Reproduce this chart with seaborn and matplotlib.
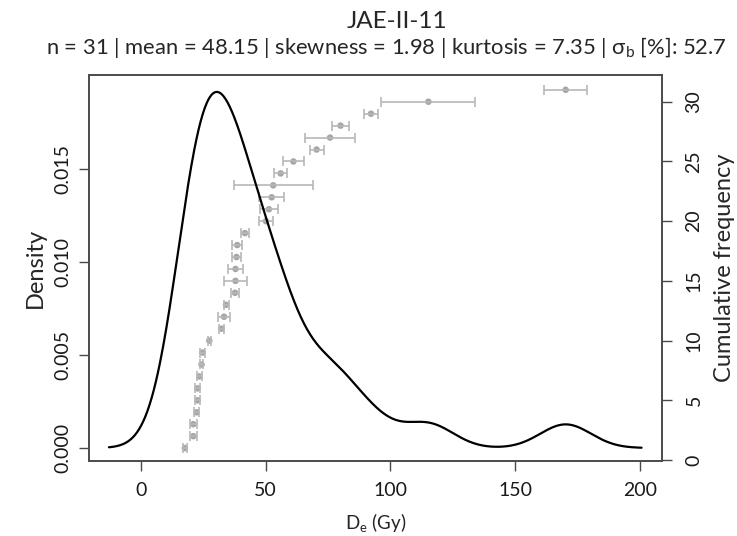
import numpy as np
import pandas as pd
import matplotlib
matplotlib.use("Agg")
import matplotlib.pyplot as plt
import seaborn as sns

# ---- data ----
de_values = [17.6, 21.0, 21.0, 22.3, 22.7, 22.7, 23.4, 24.3, 24.7, 27.4,
             32.3, 33.3, 34.1, 37.7, 37.9, 37.9, 38.3, 38.6, 41.7, 50.1,
             51.3, 52.4, 53.0, 56.0, 61.1, 70.4, 75.8, 80.0, 92.2, 115.2,
             170.2]
de_errors = [0.8, 1.3, 1.3, 1.1, 1.0, 1.1, 0.9, 0.7, 1.0, 0.7,
             1.0, 2.5, 1.0, 1.5, 4.5, 3.1, 2.0, 2.0, 1.5, 2.8,
             3.5, 5.0, 15.8, 2.5, 4.1, 2.8, 9.9, 3.5, 3.0, 18.8,
             8.5]
cum_freq = list(range(1, len(de_values) + 1))

title = "JAE-II-11"
subtitle = (r"n = 31 | mean = 48.15 | skewness = 1.98 | kurtosis = 7.35 | "
            r"σ$_\mathregular{b}$ [%]: 52.7")
x_ticks = [0, 50, 100, 150, 200]
y_ticks = [0.000, 0.005, 0.010, 0.015]
y_tick_labels = ["0.000", "0.005", "0.010", "0.015"]
y2_ticks = [0, 5, 10, 15, 20, 25, 30]

df = pd.DataFrame({"De": de_values, "err": de_errors, "cum": cum_freq})

sns.set_style("ticks")
plt.rcParams["font.family"] = ["Lato", "DejaVu Sans"]
plt.rcParams["mathtext.fontset"] = "custom"
plt.rcParams["mathtext.rm"] = "Lato"

W, H = 737, 536
fig = plt.figure(figsize=(W / 100, H / 100), dpi=100)
ax = fig.add_axes([89 / W, 1 - 461 / H, (662 - 89) / W, (461 - 75) / H])
ax2 = ax.twinx()

# R's nrd0 bandwidth
x = np.asarray(de_values)
q75, q25 = np.percentile(x, [75, 25])
bw = 0.9 * min(x.std(ddof=1), (q75 - q25) / 1.34) * len(x) ** (-0.2)
factor = bw / x.std(ddof=1)

sns.kdeplot(data=df, x="De", bw_method=factor, cut=3, gridsize=512,
            color="black", linewidth=1.6, ax=ax)

ax2.errorbar(df["De"], df["cum"], xerr=df["err"], fmt="none",
             ecolor="#b8b8b8", elinewidth=1.2, capsize=3.5, capthick=1.2)
sns.scatterplot(data=df, x="De", y="cum", color="#a6a6a6", s=22,
                edgecolor="none", ax=ax2)

ax.set_zorder(ax2.get_zorder() + 1)
ax.patch.set_visible(False)

ax.set_xlim(-20.8, 208.8)
ax.set_ylim(-0.0007, 0.02005)
ax2.set_ylim(-0.08, 32.24)

ax.set_xticks(x_ticks)
ax.set_xticklabels([str(t) for t in x_ticks])
ax.set_yticks(y_ticks)
ax.set_yticklabels(y_tick_labels, rotation=90, va="center")
ax2.set_yticks(y2_ticks)
ax2.set_yticklabels([str(t) for t in y2_ticks], rotation=90, va="center")

spine_col = "#4a4a4a"
for a in (ax, ax2):
    for s in a.spines.values():
        s.set_visible(True)
        s.set_color(spine_col)
        s.set_linewidth(1.2)
    a.tick_params(length=7, width=1.0, color=spine_col, labelsize=14,
                  labelcolor="#1a1a1a", pad=6)
ax.tick_params(axis="x", pad=8)
ax2.tick_params(axis="y", pad=10)

ax.set_xlabel(r"D$_\mathregular{e}$ (Gy)", fontsize=13.5, labelpad=9)
ax.set_ylabel("Density", fontsize=17, labelpad=6)
ax2.set_ylabel("Cumulative frequency", fontsize=17, labelpad=8)

fig.text(397 / W, 1 - 21 / H, title, ha="center", va="center", fontsize=17.5)
fig.text(386.5 / W, 1 - 48 / H, subtitle, ha="center", va="center", fontsize=15.8)

fig.savefig("out.png", dpi=100)
